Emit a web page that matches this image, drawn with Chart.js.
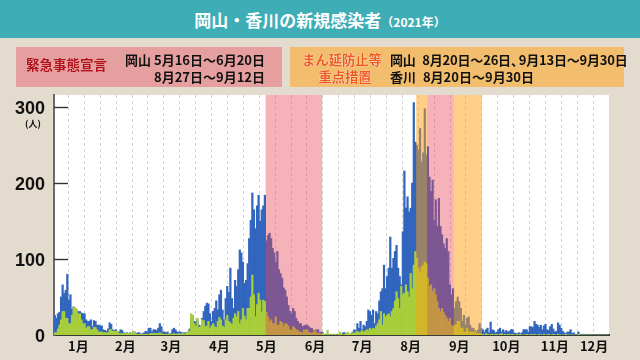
<!DOCTYPE html>
<html><head><meta charset="utf-8">
<script src="https://cdn.jsdelivr.net/npm/chart.js@4.4.0/dist/chart.umd.min.js"></script>
<style>
html,body{margin:0;padding:0;}
body{width:640px;height:360px;background:#E3DBCE;position:relative;overflow:hidden;font-family:"Noto Sans CJK JP",sans-serif;}
canvas{position:absolute;left:0;top:0;}
#title{position:absolute;left:0;top:0;width:640px;height:38px;background:#3FADB5;color:#fff;font-weight:bold;font-size:17px;line-height:40px;text-align:center;white-space:nowrap;}
#title .yr{font-size:12px;}
.box{position:absolute;top:47px;height:40px;box-sizing:border-box;}
#b1{left:16px;width:266px;background:#E59F9F;}
#b2{left:290px;width:334px;background:#F2BD6C;}
.t{position:absolute;font-weight:bold;white-space:nowrap;line-height:1;color:#111;}
#unit{position:absolute;left:20px;top:119px;width:26px;text-align:center;font-size:9px;font-weight:bold;line-height:1;color:#111;}
</style></head>
<body>
<canvas id="c" width="640" height="360"></canvas>
<div id="title">岡山・香川の新規感染者<span class="yr">（2021年）</span></div>
<div class="box" id="b1"></div>
<div class="box" id="b2"></div>
<div class="t" style="left:26px;top:58px;font-size:13.5px;color:#B3121B;text-shadow:0 0 1px #f6d0d0;">緊急事態宣言</div>
<div class="t" style="right:375px;top:52.5px;font-size:13px;text-align:right;">岡山 5月16日～6月20日</div>
<div class="t" style="right:375px;top:69.5px;font-size:13px;text-align:right;">8月27日～9月12日</div>
<div class="t" style="left:290px;width:104px;top:52.5px;font-size:13.3px;text-align:center;color:#EE5A1E;text-shadow:0 0 1px #fff,0 0 1px #fff;">まん延防止等</div>
<div class="t" style="left:290px;width:110px;top:69.5px;font-size:13.3px;text-align:center;color:#EE5A1E;text-shadow:0 0 1px #fff,0 0 1px #fff;">重点措置</div>
<div class="t" style="left:390px;top:52.5px;font-size:13px;word-spacing:4px;letter-spacing:-0.2px;">岡山 8月20日～26日<span style="margin-right:-5px">、</span>9月13日～9月30日</div>
<div class="t" style="left:390px;top:70px;font-size:13px;word-spacing:4px;">香川 8月20日～9月30日</div>
<div id="unit">(人)</div>
<script>
const months = ['1月','2月','3月','4月','5月','6月','7月','8月','9月','10月','11月','12月'];
const monthDays = [31,28,31,30,31,30,31,31,30,31,30,20]; // shown through 12/20
const yTicks = [0,100,200,300];
const okayama = [26,22,28,30,50,66,55,59,80,46,
53,34,37,35,33,31,31,29,28,28,
20,18,18,20,11,19,18,13,13,12,
12,7,6,5,8,16,14,7,6,7,
4,4,7,6,3,2,3,1,3,2,
4,4,2,3,3,1,2,3,5,4,
9,9,4,7,7,6,9,15,11,4,
4,3,4,2,2,7,9,7,4,4,
4,3,3,3,3,4,8,25,26,18,
17,20,13,12,22,31,38,42,41,28,
18,31,35,45,33,53,59,33,20,48,
64,56,88,48,35,72,64,86,112,108,
96,68,72,94,127,151,187,165,140,170,
184,150,165,170,184,124,131,134,127,114,
108,96,110,86,81,75,62,59,50,39,
31,28,35,31,22,18,15,15,11,12,
13,13,11,9,9,6,6,7,7,3,
4,3,1,0,1,0,1,0,1,0,
0,1,2,1,3,3,1,2,1,2,
4,7,6,15,9,18,7,13,11,18,
33,31,26,33,15,31,28,45,57,61,
92,61,77,88,129,88,101,110,118,88,
77,66,136,216,167,182,162,167,200,306,
254,250,243,272,228,240,298,237,248,208,
189,204,151,178,143,180,143,132,120,114,
127,110,66,53,61,35,44,50,44,35,
18,26,13,22,24,13,9,9,6,4,
7,15,9,7,4,7,9,3,17,7,
6,3,4,7,9,4,7,4,6,4,
5,7,7,3,2,2,3,2,3,7,
7,7,4,11,11,10,18,14,13,10,
13,7,12,14,7,6,11,14,8,4,
5,16,13,9,5,3,2,4,4,7,
2,3,1,0,4,1,0,1,0,0,
1,1,0,0,0,0,0,1,1,0,
0,0,0,0];
const kagawa = [3,3,8,13,20,31,31,22,22,15,
15,26,36,36,34,28,28,20,15,15,
9,11,11,7,7,10,10,7,4,4,
4,3,3,3,3,7,7,5,5,5,
5,2,2,2,2,2,2,2,2,3,
4,4,1,1,1,1,1,1,1,1,
1,2,2,2,2,2,2,3,2,1,
1,1,1,2,1,1,2,1,1,2,
1,2,2,1,3,4,5,28,26,15,
12,22,10,11,20,19,11,12,18,9,
12,15,11,10,18,23,20,12,10,20,
26,18,16,14,22,28,24,31,15,20,
35,25,20,35,35,50,79,53,24,40,
55,46,30,46,44,30,24,18,20,15,
15,24,13,13,18,16,11,15,14,12,
7,6,11,9,7,6,4,4,3,7,
6,7,3,3,2,4,7,3,2,2,
1,2,1,0,6,1,0,1,0,1,
0,2,4,1,0,1,2,4,1,2,
3,2,4,5,3,4,6,4,5,7,
6,9,7,9,8,12,15,20,31,13,
28,24,26,28,24,31,35,45,57,48,
35,64,53,55,66,57,50,81,61,92,
110,101,88,83,90,92,96,94,75,64,
66,57,61,53,44,35,31,35,30,26,
22,18,22,13,11,13,13,18,18,9,
9,4,4,9,4,4,4,3,4,2,
2,2,1,1,0,2,1,0,1,1,
0,1,1,0,1,2,0,1,0,1,
1,0,1,0,0,1,0,1,0,0,
0,1,0,0,1,0,1,0,0,1,
0,0,1,0,0,1,0,0,1,0,
0,1,0,0,0,0,1,0,0,0,
0,0,0,0,1,0,0,0,0,0,
0,0,0,0,0,0,0,0,0,0,
0,0,0,0];
const emergency = [['5/16','6/20'],['8/27','9/12']];
const priority = [['8/20','8/26'],['9/13','9/30']];

// category labels (one per day)
const days = [];
const monthTick = {};
let start = 0;
monthDays.forEach((n, m) => {
  for (let d = 1; d <= n; d++) days.push((m + 1) + '/' + d);
  monthTick[start + Math.floor(n / 2)] = months[m];
  start += n;
});
const idx = s => days.indexOf(s);

// background dashed grid (decoration), in day units
const gridStart = 8.93, gridStep = 10.14, gridCount = 34;

const deco = {
  id: 'deco',
  beforeDraw(chart) {
    const {ctx, chartArea: a} = chart;
    ctx.save();
    ctx.fillStyle = '#ffffff';
    ctx.fillRect(a.left, a.top, a.right - a.left, a.bottom - a.top);
    ctx.restore();
  },
  beforeDatasetsDraw(chart) {
    const {ctx, chartArea: a, scales: {x}} = chart;
    ctx.save();
    ctx.strokeStyle = '#d2d2d2';
    ctx.lineWidth = 1;
    ctx.setLineDash([3, 3]);
    for (let k = 0; k < gridCount; k++) {
      const px = Math.round(x.getPixelForValue(gridStart + k * gridStep - 0.5)) + 0.5;
      ctx.beginPath();
      ctx.moveTo(px, a.top);
      ctx.lineTo(px, a.bottom);
      ctx.stroke();
    }
    ctx.restore();
  },
  afterDatasetsDraw(chart) {
    const {ctx, chartArea: a, scales: {x, y}} = chart;
    ctx.save();
    const band = (p, color) => {
      const x0 = x.getPixelForValue(idx(p[0]) - 0.5);
      const x1 = x.getPixelForValue(idx(p[1]) + 0.5);
      ctx.fillStyle = color;
      ctx.fillRect(x0, a.top, x1 - x0, a.bottom - a.top);
    };
    emergency.forEach(p => band(p, 'rgba(233,67,84,0.41)'));
    priority.forEach(p => band(p, 'rgba(255,159,21,0.5)'));
    ctx.strokeStyle = '#333';
    ctx.lineWidth = 1.4;
    yTicks.filter(v => v > 0).forEach(v => {
      const py = Math.round(y.getPixelForValue(v)) + 0.5;
      ctx.beginPath();
      ctx.moveTo(a.left, py);
      ctx.lineTo(a.left + 14, py);
      ctx.stroke();
    });
    ctx.restore();
  }
};

new Chart(document.getElementById('c'), {
  type: 'bar',
  data: {
    labels: days,
    datasets: [
      {label: '香川', data: kagawa, backgroundColor: '#A8CE3B', grouped: false, order: 0, barPercentage: 1, categoryPercentage: 1, borderWidth: 0},
      {label: '岡山', data: okayama, backgroundColor: '#3165BE', grouped: false, order: 1, barPercentage: 1, categoryPercentage: 1, borderWidth: 0}
    ]
  },
  options: {
    responsive: false,
    devicePixelRatio: 1,
    animation: false,
    events: [],
    layout: {padding: {left: 0, top: 95, right: 31, bottom: 0}},
    plugins: {legend: {display: false}, tooltip: {enabled: false}, title: {display: false}},
    scales: {
      x: {
        type: 'category', offset: true, z: 1,
        grid: {display: false, drawTicks: false},
        border: {display: true, color: '#3a3a3a', width: 2},
        ticks: {
          autoSkip: false, maxRotation: 0, minRotation: 0, padding: 3, color: '#111',
          font: {family: '"Noto Sans CJK JP", sans-serif', size: 13, weight: 'bold'},
          callback: (v, i) => monthTick[i] || ''
        },
        afterFit: s => { s.height = 25; }
      },
      y: {
        min: 0, max: 316, z: 1,
        afterBuildTicks: s => { s.ticks = yTicks.map(v => ({value: v})); },
        grid: {display: false, drawTicks: false},
        border: {display: true, color: '#6a6a6a', width: 2},
        ticks: {
          padding: 9, labelOffset: 2, color: '#111',
          font: {family: '"Liberation Sans", Arial, sans-serif', size: 18, weight: 'bold'}
        },
        afterFit: s => { s.width = 54; }
      }
    }
  },
  plugins: [deco]
});
</script>
</body></html>
